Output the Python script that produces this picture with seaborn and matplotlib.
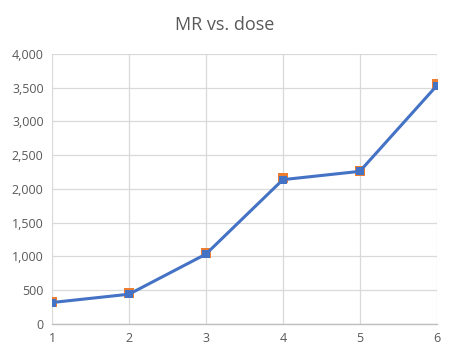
import matplotlib
matplotlib.use("Agg")
import matplotlib.pyplot as plt
import seaborn as sns
import pandas as pd
from matplotlib.ticker import FuncFormatter, MultipleLocator

# дані з графіка
dose = [1, 2, 3, 4, 5, 6]
mr_orange = [332, 455, 1050, 2160, 2270, 3548]
mr_blue = [318, 441, 1035, 2138, 2261, 3530]

sns.set_theme(style="white")
plt.rcParams['font.family'] = ['Open Sans', 'DejaVu Sans']

df = pd.DataFrame({'dose': dose, 'orange': mr_orange, 'blue': mr_blue})

fig = plt.figure(figsize=(4.5, 3.62), dpi=100)
ax = fig.add_axes([0.1156, 0.105, 0.855, 0.746])

sns.lineplot(data=df, x='dose', y='orange', ax=ax, color='#ED7D31', linewidth=0,
             marker='s', markersize=7, markeredgewidth=0, zorder=3)
sns.lineplot(data=df, x='dose', y='blue', ax=ax, color='#4472C4', linewidth=2.2,
             marker='s', markersize=6, markeredgewidth=0, zorder=4)

ax.set_xlim(1, 6)
ax.set_ylim(0, 4000)
ax.xaxis.set_major_locator(MultipleLocator(1))
ax.yaxis.set_major_locator(MultipleLocator(500))
ax.yaxis.set_major_formatter(FuncFormatter(lambda v, p: f"{int(v):,}"))
ax.grid(True, color='#D9D9D9', linewidth=0.9)
ax.set_axisbelow(True)
for s in ['top', 'right', 'left']:
    ax.spines[s].set_visible(False)
ax.spines['bottom'].set_color('#BFBFBF')
ax.spines['bottom'].set_linewidth(1)
ax.tick_params(axis='both', length=0, labelsize=9, labelcolor='#595959', pad=6)
ax.set_xlabel('')
ax.set_ylabel('')
fig.suptitle('MR vs. dose', y=0.955, fontsize=13, color='#595959')

fig.savefig('out.png', dpi=100)
